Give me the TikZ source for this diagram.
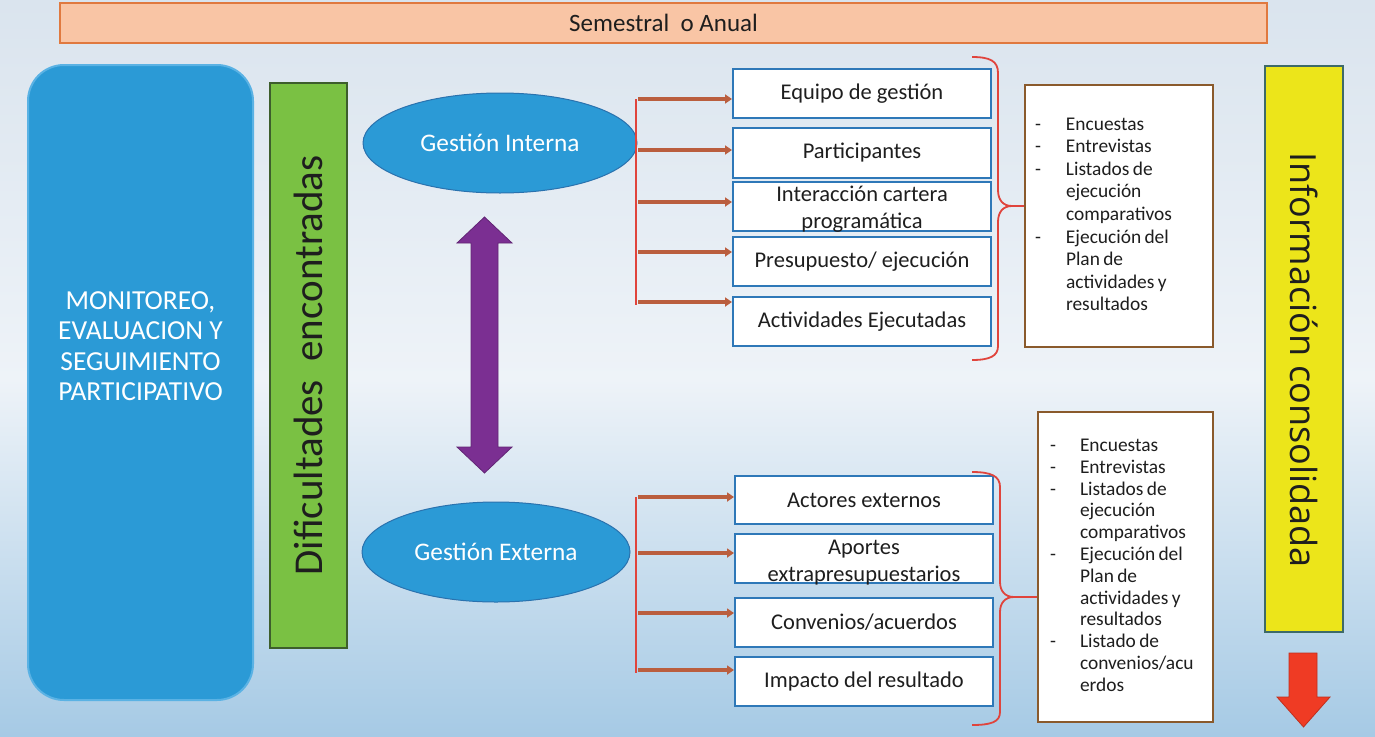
\documentclass[tikz,border=0pt]{standalone}
\usepackage{fontspec}
\setmainfont{Carlito}
\newfontfamily\infofont{Open Sans}
\usetikzlibrary{arrows.meta,shapes.geometric}
\definecolor{bgtop}{HTML}{DAE4EE}
\definecolor{bgmid}{HTML}{EEF3F8}
\definecolor{bgbot}{HTML}{A6CAE5}
\definecolor{peach}{HTML}{F9C5A5}
\definecolor{peachline}{HTML}{E0793F}
\definecolor{mainblue}{HTML}{2B9AD6}
\definecolor{mainblueline}{HTML}{5AB2E4}
\definecolor{ellline}{HTML}{2A72AE}
\definecolor{leaf}{HTML}{7AC143}
\definecolor{leafline}{HTML}{3D5E2C}
\definecolor{yel}{HTML}{ECE51A}
\definecolor{yelline}{HTML}{3E6A68}
\definecolor{boxblue}{HTML}{2E78B8}
\definecolor{brownline}{HTML}{8A5A2C}
\definecolor{arrowc}{HTML}{BA5E3E}
\definecolor{bracered}{HTML}{E0443C}
\definecolor{purp}{HTML}{7B2F92}
\definecolor{redarrow}{HTML}{EF3B24}
\definecolor{txt}{HTML}{1E1E1E}
\newcommand\myfs[2]{\fontsize{#1}{#2}\selectfont}
\newcommand\twolines[3]{\raisebox{#1}[0pt][0pt]{\begin{tabular}{@{}c@{}}#2\\#3\end{tabular}}}
\begin{document}
\begin{tikzpicture}[x=1pt,y=-1pt,
  topbar/.style={draw=peachline,fill=peach,line width=2pt,inner sep=0pt,text=txt,font=\myfs{25}{29}},
  ell/.style={ellipse,draw=ellline,line width=1pt,fill=mainblue,text=white,inner sep=0pt,minimum width=274pt,minimum height=100pt,font=\myfs{25.3}{29}},
  gbox/.style={draw=boxblue,fill=white,line width=2pt,minimum width=258pt,inner sep=0pt,align=center,text=txt,font=\myfs{22.5}{27}},
  infobox/.style={draw=brownline,fill=white,line width=2.5pt,inner sep=0pt,align=left,text=txt},
  conn/.style={draw=arrowc,line width=4pt,-{Triangle[length=7pt,width=9pt]}},
  spine/.style={draw=bracered,line width=1.6pt},
  bracec/.style={draw=bracered,line width=1.8pt}
]
\useasboundingbox (0,0) rectangle (1375,736);
\shade[top color=bgtop,bottom color=bgmid] (0,0) rectangle (1375,380);
\shade[top color=bgmid,bottom color=bgbot] (0,379) rectangle (1375,736);

% top bar
\node[topbar,minimum width=1207pt,minimum height=40pt] (period) at (663.5,23) {Semestral\ \ o Anual};

% main blue box
\filldraw[draw=mainblueline,fill=mainblue,line width=2pt,rounded corners=36pt] (28,65) rectangle (253,700);
\node[text=white,align=center,inner sep=0pt,font=\myfs{27.5}{30.5}] (mon) at (140.5,346) {MONITOREO,\\EVALUACION Y\\SEGUIMIENTO\\PARTICIPATIVO};

% green bar
\node[draw=leafline,fill=leaf,line width=1.2pt,rotate=90,minimum width=565pt,minimum height=77pt,inner sep=0pt,text=txt,font=\myfs{41}{45}] (dif) at (308.5,365.5) {Dificultades\ \ encontradas};

% ellipses
\node[ell] (gi) at (500,143) {Gestión Interna};
\node[ell,minimum width=268pt] (ge) at (496,552) {Gestión Externa};

% purple double arrow
\filldraw[fill=purp,draw=purp!80!black,line width=0.8pt]
  (484.5,217) -- (512,243) -- (498,243) -- (498,447) -- (512,447) -- (484.5,473)
  -- (457,447) -- (471,447) -- (471,243) -- (457,243) -- cycle;

% top group boxes
\node[gbox,minimum height=49pt] (b1) at (862,93.5) {Equipo de gestión};
\node[gbox,minimum height=50pt] (b2) at (862,153) {Participantes};
\node[gbox,minimum height=49pt] (b3) at (862,206.5) {\twolines{-8pt}{Interacción cartera}{programática}};
\node[gbox,minimum height=49pt] (b4) at (862,261.5) {Presupuesto/ ejecución};
\node[gbox,minimum height=49pt] (b5) at (862,321.5) {Actividades Ejecutadas};

% bottom group boxes
\node[gbox,minimum height=48pt] (c1) at (864,500) {Actores externos};
\node[gbox,minimum height=49pt] (c2) at (864,558.5) {\twolines{-9pt}{Aportes}{extrapresupuestarios}};
\node[gbox,minimum height=49pt] (c3) at (864,622.5) {Convenios/acuerdos};
\node[gbox,minimum height=49pt] (c4) at (864,681.5) {Impacto del resultado};

% spines and arrows (top)
\coordinate (s1) at (636,99);
\coordinate (s2) at (636,150);
\coordinate (s3) at (636,202);
\coordinate (s4) at (636,252);
\coordinate (s5) at (636,302);
\coordinate (send) at (636,305);
\draw[spine] (s1) -- (send);
\foreach \i in {1,...,5} {\draw[conn] ([xshift=2pt]s\i) -- (s\i -| b\i.west);}

% spines and arrows (bottom)
\coordinate (t1) at (636,497);
\coordinate (t2) at (636,553);
\coordinate (t3) at (636,613);
\coordinate (t4) at (636,670);
\coordinate (tend) at (636,673);
\draw[spine] (t1) -- (tend);
\foreach \i in {1,...,4} {\draw[conn] ([xshift=2pt]t\i) -- (t\i -| c\i.west);}

% info boxes
\node[infobox,minimum width=188pt,minimum height=262pt,text width=168pt] (i1) at (1119,216) {%
\myfs{19.4}{22.6}\begin{tabular}{@{}p{31pt}@{}l@{}}
- & Encuestas\\
- & Entrevistas\\
- & Listados de\\
  & ejecución\\
  & comparativos\\
- & Ejecución del\\
  & Plan de\\
  & actividades y\\
  & resultados
\end{tabular}};
\node[infobox,minimum width=175pt,minimum height=310pt,text width=151pt] (i2) at (1125.5,567) {%
\myfs{19.4}{21.8}\begin{tabular}{@{}p{30pt}@{}l@{}}
- & Encuestas\\
- & Entrevistas\\
- & Listados de\\
  & ejecución\\
  & comparativos\\
- & Ejecución del\\
  & Plan de\\
  & actividades y\\
  & resultados\\
- & Listado de\\
  & convenios/acu\\
  & erdos
\end{tabular}};

% braces
\coordinate (tip1) at (1012,206);
\draw[bracec] (972,57) .. controls (990,57) and (998,61) .. (998,73) -- (998,190)
  .. controls (998,200) and (1003,206) .. (tip1)
  .. controls (1003,206) and (998,212) .. (998,222) -- (998,346)
  .. controls (998,356) and (990,360) .. (972,360);
\draw[bracec] (tip1) -- (tip1 -| i1.west);
\coordinate (tip2) at (1014,597);
\draw[bracec] (972,472) .. controls (991,472) and (1000,476) .. (1000,487) -- (1000,582)
  .. controls (1000,591) and (1005,597) .. (tip2)
  .. controls (1005,597) and (1000,603) .. (1000,612) -- (1000,712)
  .. controls (1000,722) and (991,725) .. (972,725);
\draw[bracec] (tip2) -- (tip2 -| i2.west);

% yellow bar
\node[draw=yelline,fill=yel,line width=1.5pt,rotate=-90,minimum width=566pt,minimum height=78pt,inner sep=0pt,text=txt,font=\infofont\myfs{36}{40}] (info) at (1304,349) {\hspace*{22pt}Información consolidada};

% red down arrow
\filldraw[fill=redarrow,draw=redarrow!80!black,line width=0.8pt]
  (1289,653) -- (1317,653) -- (1317,697) -- (1330,697) -- (1303.5,727) -- (1277,697) -- (1289,697) -- cycle;
\end{tikzpicture}
\end{document}
